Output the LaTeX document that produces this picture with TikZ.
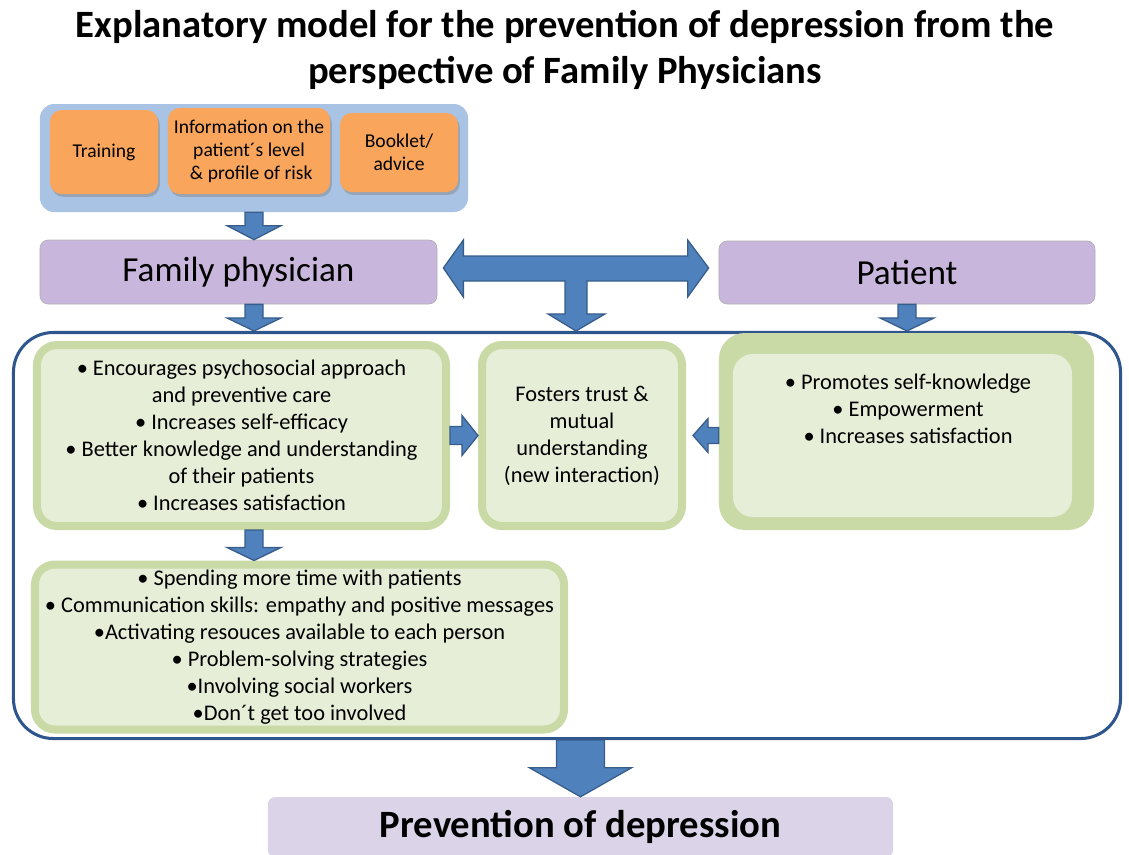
\documentclass[tikz,border=0pt]{standalone}
\usepackage{fontspec}
\setmainfont{Carlito}
\usetikzlibrary{calc,shadows}

\definecolor{boxblue}{RGB}{168,195,227}
\definecolor{boxorange}{RGB}{249,166,92}
\definecolor{boxlilac}{RGB}{200,182,221}
\definecolor{boxlilacpale}{RGB}{219,211,232}
\definecolor{greenout}{RGB}{201,218,166}
\definecolor{greenin}{RGB}{230,238,216}
\definecolor{arrowblue}{RGB}{79,129,189}
\definecolor{arrowedge}{RGB}{56,93,138}
\definecolor{frameblue}{RGB}{46,86,140}

% one pixel of the reference
\newcommand{\pxu}{0.8536pt}
% block arrow pointing down: from, tip, shaft half width, head half width, head length
\newcommand{\blockdown}[5]{%
	\filldraw[blockarrow] let \p1=(#1), \p2=(#2) in
		({\x2-#3*\pxu},\y1) -- ({\x2+#3*\pxu},\y1) -- ({\x2+#3*\pxu},{\y2+#5*\pxu}) -- ({\x2+#4*\pxu},{\y2+#5*\pxu})
		-- (\x2,\y2) -- ({\x2-#4*\pxu},{\y2+#5*\pxu}) -- ({\x2-#3*\pxu},{\y2+#5*\pxu}) -- cycle;}
% block arrow sideways: from, tip, shaft half width, head half width, signed head length
\newcommand{\blockside}[5]{%
	\filldraw[blockarrow] let \p1=(#1), \p2=(#2), \n1={#5*\pxu} in
		(\x1,{\y2+#3*\pxu}) -- ({\x2-\n1},{\y2+#3*\pxu}) -- ({\x2-\n1},{\y2+#4*\pxu}) -- (\x2,\y2)
		-- ({\x2-\n1},{\y2-#4*\pxu}) -- ({\x2-\n1},{\y2-#3*\pxu}) -- (\x1,{\y2-#3*\pxu}) -- cycle;}

\begin{document}
\begin{tikzpicture}[x=0.03cm,y=-0.03cm,
	blockarrow/.style={fill=arrowblue,draw=arrowedge,line width=1.1pt,line join=miter},
	orangebox/.style={fill=boxorange,rounded corners=10pt,inner sep=0pt,align=center,
		font=\fontsize{16.7}{19.6}\selectfont,
		drop shadow={shadow xshift=1.5pt,shadow yshift=-2.5pt,opacity=0.45}},
	whobox/.style={fill=boxlilac,draw=black!30,line width=0.6pt,rounded corners=7pt,
		inner sep=0pt,font=\fontsize{30}{34}\selectfont},
	greenbox/.style={fill=greenin,draw=greenout,line width=8*\pxu,rounded corners=17pt,
		inner sep=0pt,align=center,font=\fontsize{19.1}{23}\selectfont},
	bodytext/.style={align=center,font=\fontsize{19.1}{23}\selectfont}]
	\clip (0,0) rectangle (1129,854);
	\useasboundingbox (0,0) rectangle (1129,854);

	\node[align=center,font=\fontsize{33}{40}\selectfont\bfseries] (title) at (565,50)
		{Explanatory model for the prevention of depression from the\\perspective of Family Physicians};

	% inputs for the physician
	\node[fill=boxblue,rounded corners=12pt,minimum width=428*\pxu,minimum height=108*\pxu] (inputs) at (254,158) {};
	\node[orangebox,minimum width=108*\pxu,minimum height=84*\pxu] (training) at (104,152) {Training};
	\node[orangebox,minimum width=162*\pxu,minimum height=86*\pxu] (info) at (249,151)
		{Information on the\\patient´s level\\\ \& profile of risk};
	\node[orangebox,minimum width=118*\pxu,minimum height=79*\pxu] (booklet) at (399,152.5) {Booklet/\\advice};

	\node[whobox,minimum width=397*\pxu,minimum height=64*\pxu] (fp) at (238.5,272) {Family physician};
	\node[whobox,minimum width=376*\pxu,minimum height=63*\pxu] (pat) at (907,272.5) {Patient};

	\node[draw=frameblue,line width=2.6pt,rounded corners=34pt,minimum width=1107*\pxu,minimum height=406*\pxu] (frame) at (567,535.5) {};

	\node[greenbox,minimum width=409*\pxu,minimum height=181*\pxu] (fpgain) at (241.5,435.5)
		{• Encourages psychosocial approach\\and preventive care\\• Increases self-efficacy\\• Better knowledge and understanding\\of their patients\\• Increases satisfaction};
	\node[greenbox,minimum width=200*\pxu,minimum height=181*\pxu] (fosters) at (582,435.5)
		{Fosters trust \&\\mutual\\understanding\\(new interaction)};
	\node[fill=greenout,rounded corners=22pt,minimum width=375*\pxu,minimum height=197*\pxu] (ptframe) at (906.5,431.5) {};
	\node[fill=greenin,rounded corners=17pt,minimum width=339*\pxu,minimum height=163*\pxu] (ptbox) at (902.5,435.5) {};
	\node[bodytext] (ptgain) at (908,409) {• Promotes self-knowledge\\• Empowerment\\• Increases satisfaction};
	\node[greenbox,minimum width=529*\pxu,minimum height=165*\pxu] (skills) at (299.5,647)
		{• Spending more time with patients\\• Communication skills: empathy and positive messages\\•Activating resouces available to each person\\• Problem-solving strategies\\•Involving social workers\\•Don´t get too involved};

	\node[fill=boxlilacpale,rounded corners=6pt,minimum width=625*\pxu,minimum height=60*\pxu,
		font=\fontsize{33}{38}\selectfont\bfseries] (prev) at (580.5,827) {Prevention of depression};

	% block arrows
	\blockdown{inputs.south}{inputs.south |- fp.north}{9}{27}{14}
	\blockdown{fp.south}{inputs.south |- frame.north}{9}{27}{13}
	\blockdown{pat.south}{pat.south |- frame.north}{9}{27}{13}
	\blockdown{fpgain.south}{inputs.south |- skills.north}{9}{27}{13}
	\blockdown{frame.south}{prev.north}{24}{51}{29}
	\blockside{fpgain.east}{fosters.west}{9}{20}{16}
	\blockside{ptframe.west}{$(fosters.east)+(7,0)$}{8}{17}{-15}
	\filldraw[blockarrow] let \p1=($(fp.east)+(6,-4)$), \p2=($(pat.west)+(-10,-4)$), \p3=(frame.north),
		\p4=($(\p1)!0.5!(\p2)$) in
		(\x1,\y1) -- ({\x1+20*\pxu},{\y1+28*\pxu}) -- ({\x1+20*\pxu},{\y1+12*\pxu}) -- ({\x2-21*\pxu},{\y1+12*\pxu})
		-- ({\x2-21*\pxu},{\y1+28*\pxu}) -- (\x2,\y1) -- ({\x2-21*\pxu},{\y1-29*\pxu}) -- ({\x2-21*\pxu},{\y1-13*\pxu})
		-- ({\x4+11*\pxu},{\y1-13*\pxu}) -- ({\x4+11*\pxu},{\y3+17*\pxu}) -- ({\x4+29*\pxu},{\y3+17*\pxu}) -- (\x4,\y3)
		-- ({\x4-28*\pxu},{\y3+17*\pxu}) -- ({\x4-11*\pxu},{\y3+17*\pxu}) -- ({\x4-11*\pxu},{\y1-13*\pxu})
		-- ({\x1+20*\pxu},{\y1-13*\pxu}) -- ({\x1+20*\pxu},{\y1-29*\pxu}) -- cycle;
\end{tikzpicture}
\end{document}
